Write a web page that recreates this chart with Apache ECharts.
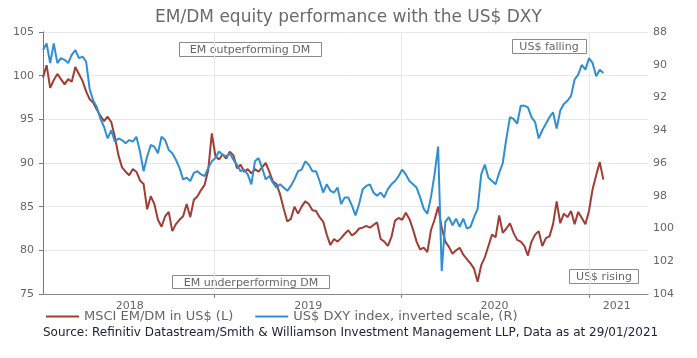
<!DOCTYPE html>
<html><head><meta charset="utf-8">
<script src="https://cdn.jsdelivr.net/npm/echarts@6/dist/echarts.min.js"></script>
<style>html,body{margin:0;padding:0;background:#fff;}#c{width:697px;height:358px;}</style>
</head><body><div id="c"></div>
<script>
// Weekly observations (Fridays) from 2018-02-02 to 2021-01-29
const startDate = [2018, 1, 2];
const msciEmDm = [
99.8,101.2,98.6,99.5,100.2,99.6,99.0,99.6,99.3,101.0,
100.2,99.4,98.2,97.3,96.9,96.1,95.4,94.8,95.3,94.7,
93.0,90.9,89.5,89.0,88.6,89.3,89.0,88.0,87.6,84.7,
86.2,85.3,83.5,82.7,83.9,84.4,82.2,83.0,83.5,83.9,
85.3,83.8,85.8,86.2,86.9,87.5,89.2,93.4,90.8,90.4,
91.0,90.5,91.3,90.9,89.4,89.8,89.0,89.3,88.8,89.3,
89.0,89.5,90.0,89.0,87.9,87.6,86.4,84.8,83.3,83.6,
85.0,84.2,85.0,85.6,85.3,84.6,84.5,83.8,83.3,81.8,
80.6,81.3,81.0,81.4,81.9,82.3,81.7,82.0,82.5,82.6,
82.8,82.6,82.9,83.2,81.3,81.0,80.5,81.5,83.4,83.7,
83.5,84.3,83.6,82.4,81.0,80.1,80.3,79.8,82.3,83.5,
85.0,82.6,81.0,80.4,79.6,80.0,80.3,79.5,79.0,78.5,
77.9,76.4,78.3,79.2,80.5,81.8,81.5,84.0,82.0,82.5,
83.1,82.0,81.2,81.0,80.5,79.4,81.0,81.8,82.2,80.5,
81.4,81.6,83.0,85.6,83.1,84.2,83.8,84.5,83.0,84.4,
83.7,83.0,84.5,87.0,88.6,90.1,88.1
];
const dxy = [
89.1,88.7,89.9,88.7,89.9,89.6,89.7,89.9,89.4,89.1,
89.6,89.5,89.8,91.5,92.2,92.6,93.3,93.8,94.5,94.0,
94.7,94.5,94.6,94.8,94.6,94.7,94.4,95.3,96.5,95.6,
94.9,95.0,95.4,94.4,94.6,95.2,95.4,95.8,96.3,97.0,
96.9,97.1,96.6,96.5,96.7,96.8,96.3,95.9,95.7,95.3,
95.5,95.6,95.4,95.8,96.1,96.5,96.4,96.7,97.3,95.9,
95.7,96.3,97.0,96.8,97.2,97.5,97.3,97.5,97.7,97.4,
97.0,96.5,96.4,95.9,96.1,96.5,96.5,97.1,97.8,97.3,
97.7,97.8,97.5,98.5,98.1,98.1,98.6,99.2,98.5,97.6,
97.4,97.3,97.8,98.0,97.8,98.1,97.6,97.3,97.1,96.8,
96.4,96.7,97.1,97.3,97.5,98.1,98.8,99.1,98.1,96.7,
95.0,102.6,99.6,99.3,99.8,99.4,99.9,99.4,100.0,99.9,
99.3,98.8,96.7,96.1,96.9,97.1,97.3,96.6,96.0,94.5,
93.2,93.3,93.6,92.5,92.5,92.6,93.2,93.5,94.5,94.0,
93.6,93.2,92.9,93.9,92.8,92.4,92.2,91.9,90.9,90.6,
90.0,90.3,89.6,89.9,90.7,90.3,90.5
];
const yearTicks = ['2019-01-01','2020-01-01','2021-01-01'];
const yearLabelDates = ['2018-07-21','2019-07-04','2020-07-01','2021-02-24'];
const leftTicks = {min: 75, max: 105, interval: 5};
const rightTicks = {min: 88, max: 104, interval: 2};

const DAY = 86400000;
const t0 = Date.UTC(startDate[0], startDate[1], startDate[2]);
const dates = msciEmDm.map((_, i) => t0 + i * 7 * DAY);
const ts = s => Date.parse(s + 'T00:00:00Z');
const FONT = 'DejaVu Sans';

const chart = echarts.init(document.getElementById('c'), null, {renderer: 'canvas'});
function box(text, x, y, w, h) {
  return {
    type: 'group', left: x, top: y, children: [
      {type: 'rect', shape: {x: 0.5, y: 0.5, width: w, height: h}, style: {fill: '#fff', stroke: '#8a8a8a', lineWidth: 1}},
      {type: 'text', x: Math.round(w / 2), y: Math.round(h / 2) + 1, style: {text: text, fill: '#666', font: '11px "DejaVu Sans"', align: 'center', verticalAlign: 'middle'}}
    ]
  };
}
chart.setOption({
  animation: false,
  backgroundColor: '#fff',
  title: {text: 'EM/DM equity performance with the US$ DXY', left: 'center', top: 4,
    textStyle: {color: '#6a6a6a', fontFamily: FONT, fontSize: 17, fontWeight: 'normal'}},
  grid: {left: 43, right: 49, top: 32, bottom: 64},
  legend: {left: 46, top: 310, itemWidth: 33, itemHeight: 2, itemGap: 22, icon: 'rect', padding: 0,
    textStyle: {color: '#666', fontFamily: FONT, fontSize: 13},
    data: ['MSCI EM/DM in US$ (L)', 'US$ DXY index, inverted scale, (R)']},
  xAxis: {
    type: 'value', min: t0, max: ts('2021-04-26'),
    axisLine: {lineStyle: {color: '#888', width: 1}},
    axisTick: {show: true, length: 4, lineStyle: {color: '#888'}, customValues: yearTicks.map(ts)},
    axisLabel: {customValues: yearLabelDates.map(ts), color: '#666', fontFamily: FONT, fontSize: 11, margin: 7,
      formatter: v => String(new Date(v).getUTCFullYear())},
    splitLine: {show: true, lineStyle: {color: '#e8e8e8'}}
  },
  yAxis: [
    {type: 'value', min: leftTicks.min, max: leftTicks.max, interval: leftTicks.interval,
      axisLine: {show: true, lineStyle: {color: '#777'}},
      axisTick: {show: true, length: 4, lineStyle: {color: '#777'}},
      axisLabel: {color: '#666', fontFamily: FONT, fontSize: 11, margin: 9},
      splitLine: {show: true, lineStyle: {color: '#e8e8e8'}}},
    {type: 'value', min: rightTicks.min, max: rightTicks.max, interval: rightTicks.interval, inverse: true,
      axisLine: {show: false}, axisTick: {show: false},
      axisLabel: {color: '#666', fontFamily: FONT, fontSize: 11, margin: 5},
      splitLine: {show: false}}
  ],
  series: [
    {name: 'MSCI EM/DM in US$ (L)', type: 'line', yAxisIndex: 0, symbol: 'none', showSymbol: false,
      lineStyle: {color: '#a03d34', width: 2}, itemStyle: {color: '#a03d34'},
      data: dates.map((d, i) => [d, msciEmDm[i]])},
    {name: 'US$ DXY index, inverted scale, (R)', type: 'line', yAxisIndex: 1, symbol: 'none', showSymbol: false,
      lineStyle: {color: '#2f8fd2', width: 2}, itemStyle: {color: '#2f8fd2'},
      data: dates.map((d, i) => [d, dxy[i]])}
  ],
  graphic: [
    box('EM outperforming DM', 179, 42, 142, 14),
    box('US$ falling', 512, 39, 74, 14),
    box('EM underperforming DM', 172, 275, 157, 13),
    box('US$ rising', 569, 269, 69, 14),
    {type: 'text', left: 43, top: 327, style: {text: 'Source: Refinitiv Datastream/Smith & Williamson Investment Management LLP, Data as at 29/01/2021',
      fill: '#22223a', font: '12px "DejaVu Sans"'}}
  ]
});
</script></body></html>
